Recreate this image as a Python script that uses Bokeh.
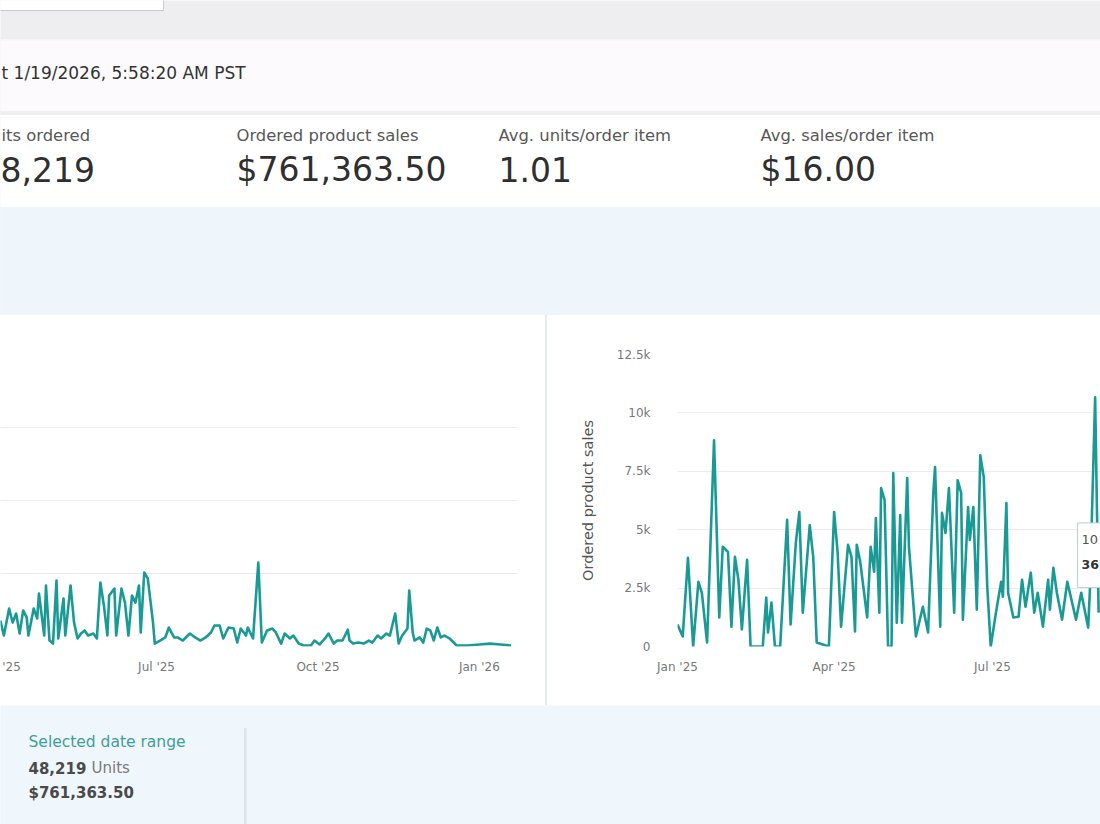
from datetime import datetime
import pandas as pd
from bokeh.plotting import figure
from bokeh.models import (Range1d, Label, BoxAnnotation, FixedTicker, DatetimeTickFormatter,
                          NumeralTickFormatter, Spacer, ColumnDataSource)
from bokeh.layouts import column, row
from bokeh.embed import file_html
from bokeh.resources import INLINE

FONT = "DejaVu Sans"
TEAL = "#1a9a94"

# ---------------- data ----------------
units_dates = [
    "2025-04-03", "2025-04-05", "2025-04-08", "2025-04-10", "2025-04-12", "2025-04-14", "2025-04-16",
    "2025-04-18", "2025-04-19", "2025-04-22", "2025-04-24", "2025-04-25", "2025-04-28", "2025-04-29",
    "2025-05-01", "2025-05-03", "2025-05-05", "2025-05-06", "2025-05-09", "2025-05-10", "2025-05-13",
    "2025-05-15", "2025-05-17", "2025-05-19", "2025-05-21", "2025-05-23", "2025-05-26", "2025-05-28",
    "2025-05-30",
    "2025-06-01", "2025-06-03", "2025-06-04", "2025-06-07", "2025-06-08", "2025-06-11", "2025-06-13",
    "2025-06-15", "2025-06-17", "2025-06-19", "2025-06-21", "2025-06-22", "2025-06-24", "2025-06-26",
    "2025-06-29", "2025-06-30",
    "2025-07-03", "2025-07-06", "2025-07-08", "2025-07-11", "2025-07-13", "2025-07-16", "2025-07-20",
    "2025-07-23", "2025-07-26", "2025-07-29",
    "2025-08-01", "2025-08-03", "2025-08-06", "2025-08-08", "2025-08-11", "2025-08-14", "2025-08-16",
    "2025-08-18", "2025-08-21", "2025-08-22", "2025-08-25", "2025-08-28", "2025-08-30",
    "2025-09-02", "2025-09-05", "2025-09-07", "2025-09-10", "2025-09-12", "2025-09-15", "2025-09-17",
    "2025-09-20", "2025-09-23", "2025-09-27", "2025-09-29",
    "2025-10-02", "2025-10-05", "2025-10-07", "2025-10-10", "2025-10-12", "2025-10-15", "2025-10-18",
    "2025-10-19", "2025-10-21", "2025-10-24", "2025-10-27", "2025-10-30",
    "2025-11-01", "2025-11-04", "2025-11-06", "2025-11-09", "2025-11-11", "2025-11-14", "2025-11-16",
    "2025-11-18", "2025-11-21", "2025-11-22", "2025-11-24", "2025-11-25", "2025-11-28", "2025-11-30",
    "2025-12-02", "2025-12-04", "2025-12-06", "2025-12-08", "2025-12-10", "2025-12-12", "2025-12-15",
    "2025-12-19", "2025-12-25",
    "2026-01-01", "2026-01-07", "2026-01-13", "2026-01-19",
]
units_values = [
    178, 75, 260, 164, 226, 89, 247, 199, 75, 260, 192, 363, 75, 418,
    41, 20, 452, 55, 329, 75, 418, 164, 55, 89, 110, 75, 89, 55, 438,
    281, 75, 349, 397, 75, 397, 301, 75, 349, 301, 418, 96, 507, 466, 164, 20,
    41, 62, 130, 62, 62, 41, 89, 62, 41, 62,
    96, 144, 144, 55, 130, 123, 27, 123, 75, 130, 55, 575, 27,
    110, 123, 96, 20, 89, 55, 75, 20, 7, 7, 41,
    14, 55, 89, 20, 41, 41, 115, 41, 20, 27, 20, 41,
    27, 75, 55, 89, 75, 226, 20, 75, 123, 384, 96, 41, 62, 27,
    123, 110, 41, 130, 62, 75, 55, 7, 7,
    14, 20, 14, 7,
]

sales_dates = [
    "2025-01-01", "2025-01-04", "2025-01-07", "2025-01-10", "2025-01-13", "2025-01-15", "2025-01-18",
    "2025-01-22", "2025-01-25", "2025-01-27", "2025-01-30",
    "2025-02-01", "2025-02-03", "2025-02-05", "2025-02-07", "2025-02-10", "2025-02-12", "2025-02-19",
    "2025-02-21", "2025-02-22", "2025-02-24", "2025-02-26",
    "2025-03-01", "2025-03-05", "2025-03-07", "2025-03-10", "2025-03-12", "2025-03-14", "2025-03-18",
    "2025-03-20", "2025-03-22", "2025-03-29",
    "2025-04-01", "2025-04-03", "2025-04-05", "2025-04-09", "2025-04-11", "2025-04-13", "2025-04-14",
    "2025-04-16", "2025-04-20", "2025-04-22", "2025-04-24", "2025-04-25", "2025-04-27", "2025-04-28",
    "2025-04-30",
    "2025-05-02", "2025-05-04", "2025-05-05", "2025-05-07", "2025-05-09", "2025-05-10", "2025-05-13",
    "2025-05-14", "2025-05-18", "2025-05-22", "2025-05-25", "2025-05-28", "2025-05-29",
    "2025-06-01", "2025-06-02", "2025-06-04", "2025-06-06", "2025-06-09", "2025-06-11", "2025-06-13",
    "2025-06-14", "2025-06-17", "2025-06-18", "2025-06-20", "2025-06-22", "2025-06-24", "2025-06-26",
    "2025-06-28", "2025-06-30",
    "2025-07-03", "2025-07-06", "2025-07-07", "2025-07-09", "2025-07-10", "2025-07-13", "2025-07-16",
    "2025-07-18", "2025-07-20", "2025-07-23", "2025-07-25", "2025-07-27", "2025-07-30",
    "2025-08-02", "2025-08-03", "2025-08-05", "2025-08-07", "2025-08-10", "2025-08-13", "2025-08-15",
    "2025-08-18", "2025-08-21", "2025-08-25", "2025-08-26", "2025-08-29", "2025-08-31",
]
sales_values = [
    940, 430, 3800, 0, 2770, 2300, 170, 8830, 1240, 4270, 4050,
    850, 3840, 2860, 730, 3710, 0, 0, 2090, 600, 1880, 0,
    0, 5420, 940, 4440, 5760, 1450, 5200, 3840, 170, 0,
    5760, 4050, 850, 4350, 3840, 640, 4350, 3630, 1240, 4270, 3200, 5500, 1450, 6780, 6270,
    0, 0, 7420, 1020, 5630, 1020, 7210, 4270, 430, 1700, 600, 6570, 7680,
    850, 5720, 4860, 6780, 1450, 7120, 6570, 1150, 5970, 4560, 5970, 1580, 8190, 7250, 2560, 0,
    1450, 2770, 2130, 6140, 2300, 1240, 1280, 2860, 1700, 3160, 1450, 2300, 850,
    2860, 1580, 3370, 2300, 1150, 2770, 2130, 1150, 2300, 810, 2430, 10670, 1450,
]

x_tick_dates = ["2025-01-01", "2025-04-01", "2025-07-01", "2025-10-01", "2026-01-01"]
sales_ticks = [0, 2500, 5000, 7500, 10000, 12500]
units_ticks = [0, 500, 1000, 1500, 2000]
# the "Apr '25" label of the units chart is cut by the left edge: only "'25" shows
partial_tick_date = "2025-04-09 08:30"
partial_tick_text = "'25"

timestamp_text = "t 1/19/2026, 5:58:20 AM PST"
metric_labels = ["its ordered", "Ordered product sales", "Avg. units/order item", "Avg. sales/order item"]
metric_values = ["8,219", "$761,363.50", "1.01", "$16.00"]
legend_title = "Selected date range"
legend_units = "48,219"
legend_units_word = "Units"
legend_sales = "$761,363.50"
tooltip_lines = ["10", "36"]

tick_ms = [pd.Timestamp(d).value // 10**6 for d in x_tick_dates]
partial_ms = pd.Timestamp(partial_tick_date).value // 10**6
month_fmt = DatetimeTickFormatter(hours="%b '%y", days="%b '%y", months="%b '%y", years="%b '%y")


def deco_fig(w, h, x0, x1, y0, y1, bg):
    p = figure(width=w, height=h, x_range=Range1d(x0, x1), y_range=Range1d(y1, y0),
               output_backend="svg", toolbar_location=None, min_border=0,
               x_axis_location=None, y_axis_location=None,
               background_fill_color=bg, border_fill_color=bg, outline_line_color=None)
    p.xgrid.visible = False
    p.ygrid.visible = False
    return p


def box(p, l, r, t, b, fill, line=None, level="underlay"):
    p.add_layout(BoxAnnotation(left=l, right=r, top=t, bottom=b, fill_color=fill, fill_alpha=1,
                               line_color=line if line else fill, line_alpha=1, line_width=1,
                               level=level))


def lab(p, x, y, text, size, color, align="left", style="normal", level="annotation"):
    p.add_layout(Label(x=x, y=y, text=text, text_font=FONT, text_font_size=size, text_color=color,
                       text_align=align, text_baseline="middle", text_font_style=style, level=level))


# ---------------- header (reference y 0..315) ----------------
hdr = deco_fig(1100, 315, 0, 1100, 0, 315, "#eeeef0")
box(hdr, -20, 163, -20, 10, "#ffffff", "#c9c9cd")
box(hdr, -20, 1120, 39, 41, "#f8f8fa")
box(hdr, -20, 1120, 41, 111, "#fcfafc")
box(hdr, -20, 1120, 111, 115, "#f0eff2")
box(hdr, -20, 1120, 115, 207, "#ffffff")
box(hdr, -20, 1120, 207, 330, "#eef5fb")
lab(hdr, 1, 72, timestamp_text, "17px", "#333333")
label_x = [1, 236, 498, 760]
for i, (t, v) in enumerate(zip(metric_labels, metric_values)):
    vx = 0 if i == 0 else label_x[i]
    lab(hdr, label_x[i], 135, t, "16.4px", "#585858")
    lab(hdr, vx, 169, v, "33px", "#2f2f2f")

# ---------------- units chart (left) ----------------
units = figure(width=545, height=390, x_axis_type="datetime",
               x_range=Range1d(datetime(2025, 4, 3, 2), datetime(2026, 1, 22, 17)),
               y_range=Range1d(0, 2000), y_axis_location=None,
               output_backend="svg", toolbar_location=None,
               min_border_left=0, min_border_right=28, min_border_top=38, min_border_bottom=59,
               background_fill_color="#ffffff", border_fill_color="#ffffff", outline_line_color=None)
src_u = ColumnDataSource(dict(x=pd.to_datetime(units_dates), y=units_values))
units.line("x", "y", source=src_u, line_color=TEAL, line_width=2.6, line_join="round")
units.ygrid[0].axis.ticker = FixedTicker(ticks=units_ticks)
units.ygrid.grid_line_color = "#ececee"
units.xgrid.visible = False

# ---------------- sales chart (right) ----------------
sales = figure(width=553, height=390, x_axis_type="datetime",
               x_range=Range1d(datetime(2025, 1, 1), datetime(2025, 9, 1, 2)),
               y_range=Range1d(0, 12500),
               output_backend="svg", toolbar_location=None,
               min_border_left=130, min_border_right=0, min_border_top=39, min_border_bottom=58,
               background_fill_color="#ffffff", border_fill_color="#ffffff", outline_line_color=None)
src_s = ColumnDataSource(dict(x=pd.to_datetime(sales_dates), y=sales_values))
sales.line("x", "y", source=src_s, line_color=TEAL, line_width=2.6, line_join="round")
sales.yaxis.ticker = FixedTicker(ticks=sales_ticks)
sales.yaxis.formatter = NumeralTickFormatter(format="0.[0]a")
sales.yaxis.axis_label = "Ordered product sales"
sales.yaxis.axis_label_text_font = FONT
sales.yaxis.axis_label_text_font_size = "14.5px"
sales.yaxis.axis_label_text_font_style = "normal"
sales.yaxis.axis_label_text_color = "#555555"
sales.yaxis.axis_label_standoff = 18
sales.yaxis.major_label_standoff = 27
sales.ygrid.grid_line_color = "#ececee"
sales.xgrid.visible = False

# tooltip box (partially visible at the right edge)
box(sales, datetime(2025, 8, 18, 22), datetime(2025, 9, 20), 5290, 2520, "#ffffff", "#b9cfcd", level="overlay")
lab(sales, datetime(2025, 8, 21, 5), 4560, tooltip_lines[0], "13px", "#555555", level="overlay")
lab(sales, datetime(2025, 8, 21, 5), 3500, tooltip_lines[1], "12.5px", "#333333", style="bold", level="overlay")

units.xaxis.ticker = FixedTicker(ticks=tick_ms + [partial_ms])
units.xaxis.major_label_overrides = {partial_ms: partial_tick_text}
sales.xaxis.ticker = FixedTicker(ticks=tick_ms)
for p in (units, sales):
    p.xaxis.formatter = month_fmt
    for ax in p.axis:
        ax.axis_line_color = None
        ax.major_tick_line_color = None
        ax.minor_tick_line_color = None
        ax.major_tick_out = 0
        ax.minor_tick_out = 0
        ax.major_label_text_font = FONT
        ax.major_label_text_font_size = "12px"
        ax.major_label_text_color = "#777777"
    p.xaxis.major_label_standoff = 13

divider = Spacer(width=2, height=390, styles={"background-color": "#e6ebf0"})

# ---------------- footer (reference y 705..824) ----------------
ftr = deco_fig(1100, 119, 0, 1100, 705, 824, "#eff6fc")
box(ftr, 244, 245.5, 728, 830, "#dde5ec")
lab(ftr, 28, 741, legend_title, "15.5px", "#3f9f98")
lab(ftr, 28, 767, legend_units, "15px", "#4a4a4a", style="bold")
lab(ftr, 91, 767, legend_units_word, "15px", "#7a7a7a")
lab(ftr, 28, 792, legend_sales, "15px", "#4a4a4a", style="bold")

layout = column(hdr, row(units, divider, sales), ftr)
open("out.html", "w").write(file_html(layout, INLINE))
